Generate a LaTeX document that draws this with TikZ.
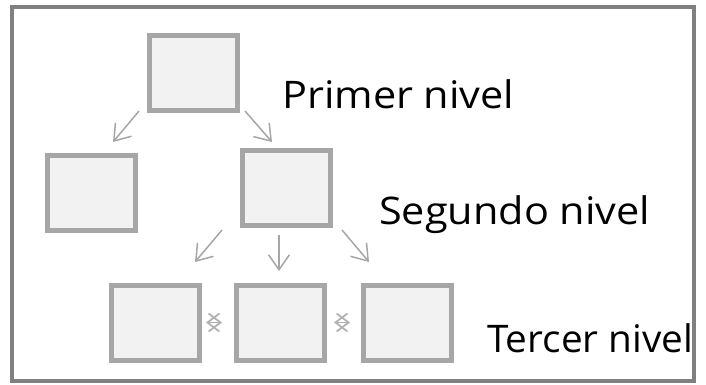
\documentclass[tikz,border=0pt]{standalone}
\usepackage{fontspec}
\setmainfont{Open Sans}
\usetikzlibrary{arrows.meta,calc}
\definecolor{boxline}{HTML}{A6A6A6}
\definecolor{boxfill}{HTML}{F2F2F2}
\definecolor{frameline}{HTML}{808080}
\definecolor{arrowline}{HTML}{A6A6A6}
\definecolor{crossline}{HTML}{B0B0B0}
\tikzset{
  levelbox/.style={draw=boxline, fill=boxfill, line width=5pt, inner sep=0pt,
    outer sep=0pt, minimum width=88pt, minimum height=75pt},
  treearrow/.style={draw=arrowline, line width=1.5pt,
    -{Straight Barb[length=15pt,width=21pt,line width=1.5pt]}},
  swaparrow/.style={draw=crossline, line width=1.7pt,
    {Straight Barb[length=12pt,width=18pt,line width=1.7pt]}-{Straight Barb[length=12pt,width=18pt,line width=1.7pt]}},
  levellabel/.style={anchor=base west, inner sep=0pt, font=\fontsize{38pt}{42pt}\selectfont}
}
\newcommand{\widelabel}[2][1.09]{\scalebox{#1}[1]{#2}}
\begin{document}
\begin{tikzpicture}[x=1pt,y=-1pt]
  \useasboundingbox (0,0) rectangle (706,384);
  % outer frame
  \node[draw=frameline, line width=4pt, inner sep=0pt, minimum width=682pt,
        minimum height=374pt] (frame) at (352.5,194) {};

  % boxes of the three levels
  \node[levelbox] (top) at (193,73) {};
  \node[levelbox] (l2a) at (91,192.5) {};
  \node[levelbox] (l2b) at (286.5,187.5) {};
  \node[levelbox] (l3a) at (155,322.5) {};
  \node[levelbox] (l3b) at (280.5,322.5) {};
  \node[levelbox] (l3c) at (407.5,322.5) {};

  % tree connectors
  \draw[treearrow] ($(top)+(-54,38)$) -- ($(l2a)+(22,-50.5)$);
  \draw[treearrow] ($(top)+(52,38)$) -- ($(l2b)+(-14.5,-45.5)$);
  \draw[treearrow] ($(l2b)+(-64.5,42.5)$) -- ($(l3a)+(40,-60.5)$);
  \draw[treearrow] ($(l2b)+(-7.5,47.5)$) -- ($(l3b)+(-1.5,-51.5)$);
  \draw[treearrow] ($(l2b)+(55.5,42.5)$) -- ($(l3c)+(-38.5,-60.5)$);

  % exchange marks between siblings
  \coordinate (s1) at ($(l3a.east)!0.4!(l3b.west)$);
  \coordinate (s2) at ($(l3b.east)!0.45!(l3c.west)$);
  \draw[swaparrow] ($(s1)+(-8,0)$) -- ($(s1)+(8,0)$);
  \draw[swaparrow] ($(s2)+(-8,0)$) -- ($(s2)+(8,0)$);

  % level labels
  \node[levellabel] (lab1) at (282,108) {\widelabel{Primer nivel}};
  \node[levellabel] (lab2) at (379,224) {\widelabel{Segundo nivel}};
  \node[levellabel] (lab3) at (487,352) {\widelabel[1.02]{Tercer nivel}};
\end{tikzpicture}
\end{document}
